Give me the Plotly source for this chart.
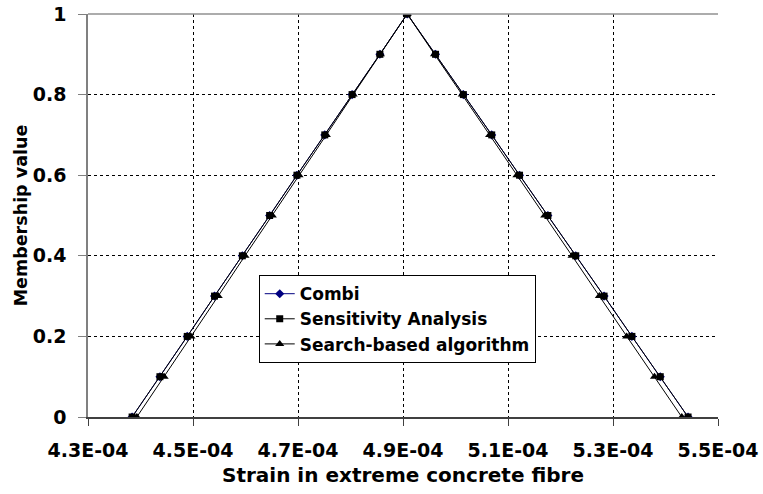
import plotly.graph_objects as go

membership = [0.0, 0.1, 0.2, 0.3, 0.4, 0.5, 0.6, 0.7, 0.8, 0.9, 1.0,
              0.9, 0.8, 0.7, 0.6, 0.5, 0.4, 0.3, 0.2, 0.1, 0.0]

combi_strain = [4.384e-4, 4.437e-4, 4.489e-4, 4.541e-4, 4.594e-4, 4.646e-4, 4.698e-4,
                4.751e-4, 4.803e-4, 4.856e-4, 4.908e-4, 4.962e-4, 5.015e-4, 5.069e-4,
                5.122e-4, 5.176e-4, 5.229e-4, 5.283e-4, 5.336e-4, 5.390e-4, 5.443e-4]

sensitivity_strain = [4.384e-4, 4.437e-4, 4.489e-4, 4.541e-4, 4.594e-4, 4.646e-4, 4.698e-4,
                      4.751e-4, 4.803e-4, 4.856e-4, 4.908e-4, 4.962e-4, 5.015e-4, 5.069e-4,
                      5.122e-4, 5.176e-4, 5.229e-4, 5.283e-4, 5.336e-4, 5.390e-4, 5.443e-4]

search_strain = [4.393e-4, 4.445e-4, 4.496e-4, 4.548e-4, 4.599e-4, 4.651e-4, 4.702e-4,
                 4.754e-4, 4.805e-4, 4.857e-4, 4.908e-4, 4.960e-4, 5.013e-4, 5.065e-4,
                 5.117e-4, 5.170e-4, 5.222e-4, 5.274e-4, 5.326e-4, 5.379e-4, 5.431e-4]

x_tickvals = [4.3e-4, 4.5e-4, 4.7e-4, 4.9e-4, 5.1e-4, 5.3e-4, 5.5e-4]
x_ticktext = ["4.3E-04", "4.5E-04", "4.7E-04", "4.9E-04", "5.1E-04", "5.3E-04", "5.5E-04"]
y_tickvals = [0, 0.2, 0.4, 0.6, 0.8, 1]
y_ticktext = ["0", "0.2", "0.4", "0.6", "0.8", "1"]

FONT = "DejaVu Sans, Verdana, sans-serif"

fig = go.Figure()
fig.add_trace(go.Scatter(x=combi_strain, y=membership, mode="lines+markers", name="Combi",
                         line=dict(color="#000080", width=1),
                         marker=dict(symbol="diamond", size=7, color="#000080")))
fig.add_trace(go.Scatter(x=sensitivity_strain, y=membership, mode="lines+markers",
                         name="Sensitivity Analysis",
                         line=dict(color="black", width=1),
                         marker=dict(symbol="square", size=7, color="black")))
fig.add_trace(go.Scatter(x=search_strain, y=membership, mode="lines+markers",
                         name="Search-based algorithm",
                         line=dict(color="black", width=1),
                         marker=dict(symbol="triangle-up", size=8, color="black")))

fig.update_layout(
    width=763, height=494,
    margin=dict(l=88, r=45, t=14, b=77),
    paper_bgcolor="white", plot_bgcolor="white",
    font=dict(family=FONT, size=17, color="black", weight="bold"),
    showlegend=True,
    legend=dict(x=0.271, y=0.352, xanchor="left", yanchor="top",
                bgcolor="white", bordercolor="black", borderwidth=1,
                font=dict(family=FONT, size=17, color="black", weight="bold"),
                tracegroupgap=0, itemwidth=30),
)
fig.update_xaxes(
    range=[4.3e-4, 5.5e-4], tickvals=x_tickvals, ticktext=x_ticktext,
    tickfont=dict(family=FONT, size=19, color="black", weight="bold"),
    showgrid=True, gridcolor="black", gridwidth=1, griddash="3px,3px",
    showline=True, linecolor="#404040", linewidth=1.5, mirror=False,
    ticks="outside", ticklen=7, tickcolor="#404040", zeroline=False,
    ticklabelstandoff=8, automargin=False,
    title=dict(text="Strain in extreme concrete fibre", standoff=8,
               font=dict(family=FONT, size=20, color="black", weight="bold")),
)
fig.update_yaxes(
    range=[0, 1], tickvals=y_tickvals, ticktext=y_ticktext,
    tickfont=dict(family=FONT, size=19, color="black", weight="bold"),
    showgrid=True, gridcolor="black", gridwidth=1, griddash="3px,3px",
    showline=True, linecolor="#808080", linewidth=1.5, mirror=False,
    ticks="outside", ticklen=8, tickcolor="#808080", zeroline=False,
    ticklabelstandoff=8, automargin=False,
    title=dict(text="Membership value", standoff=1,
               font=dict(family=FONT, size=17.5, color="black", weight="bold")),
)
# top border (solid gray)
fig.add_shape(type="line", xref="paper", yref="paper", x0=0, x1=1, y0=1, y1=1,
              line=dict(color="#909090", width=1.5))

fig.write_html("out.html")
